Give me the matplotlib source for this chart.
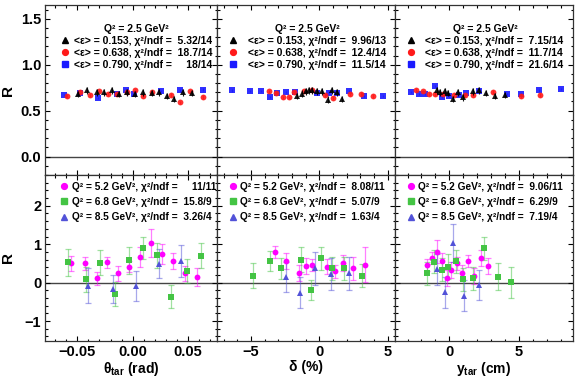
import numpy as np
import matplotlib
matplotlib.use("Agg")
import matplotlib.pyplot as plt
from matplotlib.lines import Line2D
from matplotlib.ticker import MultipleLocator, FormatStrFormatter

plt.rcParams['font.family'] = ['Liberation Sans', 'DejaVu Sans']
plt.rcParams['font.weight'] = 'bold'
plt.rcParams['mathtext.fontset'] = 'custom'
plt.rcParams['mathtext.rm'] = 'Liberation Sans:bold'
plt.rcParams['mathtext.bf'] = 'Liberation Sans:bold'
plt.rcParams['mathtext.it'] = 'Liberation Sans:bold'

# ---------------- data: top row (Q^2 = 2.5 GeV^2, three epsilon settings)
eps_labels = ["<ε> = 0.153", "<ε> = 0.638", "<ε> = 0.790"]
chi_top = [["5.32/14", "18.7/14", "   18/14"],
           ["9.96/13", "12.4/14", "11.5/14"],
           ["7.15/14", "11.7/14", "21.6/14"]]

# theta_tar panel
th_e1_x = [-0.0496, -0.041, -0.0325, -0.026, -0.019, -0.012, -0.0054, 0.0021, 0.0096, 0.0177, 0.0237, 0.0307, 0.0373, 0.0454, 0.0538]
th_e1_y = [0.68, 0.72, 0.70, 0.70, 0.72, 0.68, 0.70, 0.68, 0.70, 0.69, 0.70, 0.66, 0.63, 0.70, 0.69]
th_e2_x = [-0.0596, -0.0476, -0.0385, -0.030, -0.022, -0.014, -0.0054, 0.0018, 0.0096, 0.0177, 0.0343, 0.0427, 0.0523, 0.0632]
th_e2_y = [0.66, 0.70, 0.67, 0.71, 0.68, 0.68, 0.70, 0.72, 0.66, 0.70, 0.67, 0.59, 0.71, 0.65]
th_e3_x = [-0.0617, -0.0476, -0.0316, -0.014, -0.0063, 0.0015, 0.0253, 0.0427, 0.0637]
th_e3_y = [0.668, 0.69, 0.64, 0.68, 0.72, 0.68, 0.71, 0.72, 0.73]

# delta panel
dp_e1_x = [-1.61, -1.29, -1.0, -0.75, -0.5, -0.2, 0.22, 0.61, 0.91, 1.27, 1.64]
dp_e1_y = [0.66, 0.685, 0.71, 0.72, 0.72, 0.71, 0.71, 0.62, 0.72, 0.70, 0.63]
dp_e2_x = [-3.68, -3.17, -2.68, -2.24, -1.85, -1.1, -0.5, 0.42, 0.98, 2.25, 3.03, 3.93]
dp_e2_y = [0.71, 0.69, 0.645, 0.645, 0.70, 0.71, 0.72, 0.67, 0.64, 0.68, 0.68, 0.66]
dp_e3_x = [-6.41, -5.07, -4.29, -3.61, -3.07, -2.44, -1.75, -0.19, 0.7, 1.3, 2.2, 3.27, 4.69]
dp_e3_y = [0.72, 0.71, 0.71, 0.645, 0.69, 0.70, 0.70, 0.69, 0.69, 0.69, 0.71, 0.66, 0.66]

# y_tar panel
yt_e1_x = [-0.9, -0.67, -0.31, -0.07, 0.24, 0.65, 0.96, 1.68, 2.13, 2.63, 3.28, 4.0]
yt_e1_y = [0.72, 0.70, 0.71, 0.69, 0.63, 0.70, 0.645, 0.71, 0.72, 0.69, 0.66, 0.67]
yt_e2_x = [-2.39, -1.91, -1.46, -1.03, -0.45, 0.34, 1.13, 1.72, 3.16, 5.19, 6.5]
yt_e2_y = [0.73, 0.71, 0.68, 0.68, 0.68, 0.67, 0.67, 0.67, 0.70, 0.66, 0.67]
yt_e3_x = [-2.75, -2.15, -1.74, -1.03, -0.55, 0.0, 0.7, 1.2, 2.15, 4.12, 5.19, 6.44, 8.01]
yt_e3_y = [0.70, 0.68, 0.68, 0.77, 0.65, 0.66, 0.67, 0.69, 0.71, 0.68, 0.685, 0.72, 0.735]

err_e1, err_e2, err_e3 = 0.035, 0.02, 0.012

# ---------------- data: bottom row (three Q^2 settings)
q2_labels = ["Q² = 5.2 GeV²", "Q² = 6.8 GeV²", "Q² = 8.5 GeV²"]
chi_bot = [["   11/11", "15.8/9", "3.26/4"],
           ["8.08/11", "5.07/9", "1.63/4"],
           ["9.06/11", "6.29/9", "7.19/4"]]

th_q1_x = [-0.0557, -0.0431, -0.0325, -0.0229, -0.013, -0.0033, 0.0066, 0.0165, 0.0268, 0.0367, 0.0472, 0.058]
th_q1_y = [0.50, 0.50, 0.11, 0.53, 0.24, 0.42, 0.66, 1.04, 0.75, 0.56, 0.24, 0.14]
th_q1_e = [0.19, 0.18, 0.16, 0.15, 0.20, 0.15, 0.26, 0.36, 0.26, 0.21, 0.20, 0.24]
th_q2_x = [-0.0581, -0.0422, -0.0295, -0.016, -0.0033, 0.0096, 0.0222, 0.035, 0.0487, 0.0617]
th_q2_y = [0.53, 0.09, 0.52, -0.30, 0.58, 0.90, 0.71, -0.37, 0.30, 0.70]
th_q2_e = [0.35, 0.33, 0.33, 0.32, 0.35, 0.28, 0.33, 0.30, 0.32, 0.33]
th_q3_x = [-0.040, -0.0175, 0.003, 0.024, 0.0436]
th_q3_y = [-0.08, -0.16, -0.09, 0.49, 0.56]
th_q3_e = [0.45, 0.36, 0.40, 0.38, 0.42]

dp_q1_x = [-3.24, -2.46, -1.49, -1.0, -0.51, 0.54, 1.15, 1.71, 2.49, 3.35]
dp_q1_y = [0.80, 0.56, 0.25, 0.43, 0.46, 0.42, 0.29, 0.51, 0.37, 0.47]
dp_q1_e = [0.16, 0.20, 0.20, 0.20, 0.15, 0.20, 0.18, 0.20, 0.30, 0.45]
dp_q2_x = [-4.88, -3.61, -2.8, -1.34, -0.63, 0.1, 0.91, 1.83, 3.1]
dp_q2_y = [0.18, 0.56, 0.37, 0.60, -0.19, 0.63, 0.37, 0.37, 0.18]
dp_q2_e = [0.33, 0.27, 0.27, 0.32, 0.25, 0.31, 0.30, 0.30, 0.30]
dp_q3_x = [-2.46, -1.41, -0.31, 0.86, 2.17]
dp_q3_y = [0.15, -0.26, 0.37, 0.22, 0.24]
dp_q3_e = [0.40, 0.40, 0.42, 0.42, 0.42]

yt_q1_x = [-1.62, -1.22, -0.86, -0.55, -0.19, 0.12, 0.53, 0.89, 1.32, 1.79, 2.25, 2.75]
yt_q1_y = [0.46, 0.64, 0.80, 0.57, 0.12, 0.33, 0.50, 0.26, 0.57, 0.17, 0.64, 0.43]
yt_q1_e = [0.15, 0.15, 0.30, 0.20, 0.20, 0.20, 0.18, 0.20, 0.15, 0.20, 0.20, 0.20]
yt_q2_x = [-1.62, -1.1, -0.55, -0.07, 0.48, 0.96, 1.68, 2.51, 3.52, 4.47]
yt_q2_y = [0.25, 0.54, 0.33, 0.42, 0.56, 0.09, 0.11, 0.90, 0.15, 0.01]
yt_q2_e = [0.30, 0.30, 0.30, 0.32, 0.30, 0.30, 0.30, 0.30, 0.35, 0.40]
yt_q3_x = [-0.86, -0.29, 0.29, 1.05, 2.15]
yt_q3_y = [0.35, -0.25, 1.03, -0.34, -0.06]
yt_q3_e = [0.40, 0.40, 0.50, 0.40, 0.40]

# ---------------- layout (ROOT-like canvas, pads glued together)
W, H = 581, 378
fig = plt.figure(figsize=(W / 100, H / 100), dpi=100)

col_px = [(45.3, 216.7), (216.7, 395.0), (395.0, 572.7)]
row_px = [(5.0, 175.0), (175.0, 340.7)]
xlims = [(-0.079, 0.076), (-7.51, 5.54), (-3.9, 8.87)]
xmaj = [0.05, 5, 5]
xmin = [0.01, 1, 1]
xlabels = [r"θ$_{\mathregular{tar}}$ (rad)", "δ (%)", r"y$_{\mathregular{tar}}$ (cm)"]
leg_x = [0.088, 0.068, 0.066]
top_pad = [0.5, 1.0, 1.0]

top_cols = {"e1": "black", "e2": "#ff1a1a", "e3": "#1a1aff"}
bot_cols = {"q1": "#ff00ff", "q2": "#44c444", "q3": "#5252d8"}

top_data = [
    [(th_e1_x, th_e1_y), (th_e2_x, th_e2_y), (th_e3_x, th_e3_y)],
    [(dp_e1_x, dp_e1_y), (dp_e2_x, dp_e2_y), (dp_e3_x, dp_e3_y)],
    [(yt_e1_x, yt_e1_y), (yt_e2_x, yt_e2_y), (yt_e3_x, yt_e3_y)],
]
bot_data = [
    [(th_q1_x, th_q1_y, th_q1_e), (th_q2_x, th_q2_y, th_q2_e), (th_q3_x, th_q3_y, th_q3_e)],
    [(dp_q1_x, dp_q1_y, dp_q1_e), (dp_q2_x, dp_q2_y, dp_q2_e), (dp_q3_x, dp_q3_y, dp_q3_e)],
    [(yt_q1_x, yt_q1_y, yt_q1_e), (yt_q2_x, yt_q2_y, yt_q2_e), (yt_q3_x, yt_q3_y, yt_q3_e)],
]


def make_ax(c, r):
    x0, x1 = col_px[c]
    y0, y1 = row_px[r]
    ax = fig.add_axes([x0 / W, 1 - y1 / H, (x1 - x0) / W, (y1 - y0) / H])
    ax.set_xlim(*xlims[c])
    ax.xaxis.set_major_locator(MultipleLocator(xmaj[c]))
    ax.xaxis.set_minor_locator(MultipleLocator(xmin[c]))
    ax.tick_params(which='both', direction='in', top=True, right=True, labelsize=10.5, pad=3)
    ax.tick_params(which='major', length=3.5, width=0.8)
    ax.tick_params(which='minor', length=1.8, width=0.8)
    for s in ax.spines.values():
        s.set_linewidth(0.9)
        s.set_color('#333333')
    ax.axhline(0, color='#444444', lw=1.0, zorder=1)
    return ax


mk = {"e1": "^", "e2": "o", "e3": "s", "q1": "o", "q2": "s", "q3": "^"}

for c in range(3):
    # top row
    ax = make_ax(c, 0)
    ax.set_ylim(-0.2, 1.65)
    ax.yaxis.set_major_locator(MultipleLocator(0.5))
    ax.yaxis.set_minor_locator(MultipleLocator(0.1))
    ax.set_xticklabels([])
    if c == 0:
        ax.yaxis.set_major_formatter(FormatStrFormatter('%.1f'))
        ax.set_ylabel("R", fontsize=11, fontweight='bold')
        ax.yaxis.set_label_coords(-0.175, 0.5)
    else:
        ax.set_yticklabels([])
    handles = []
    for k, key, err in zip(range(3), ["e1", "e2", "e3"], [err_e1, err_e2, err_e3]):
        xs, ys = top_data[c][k]
        col = top_cols[key]
        ax.errorbar(xs, ys, yerr=err, fmt=mk[key], color=col, ms=4.2, mew=0,
                    ecolor=col, elinewidth=0.8, capsize=1.8, capthick=0.8, alpha=0.9,
                    zorder=3 + (2 - k))
        handles.append(Line2D([], [], ls='', marker=mk[key], color=col, ms=4.2,
                              label=f"{eps_labels[k]}, χ²/ndf =  {chi_top[c][k]}"))
    leg = ax.legend(handles=handles, title="Q² = 2.5 GeV²", frameon=False,
                    loc='upper left', bbox_to_anchor=(leg_x[c], 0.89), fontsize=7.5,
                    title_fontsize=7.5, handlelength=0.8, handletextpad=top_pad[c],
                    labelspacing=0.2, borderaxespad=0, borderpad=0)
    leg.get_title().set_fontweight('bold')

    # bottom row
    ax = make_ax(c, 1)
    ax.set_ylim(-1.51, 2.8)
    ax.yaxis.set_major_locator(MultipleLocator(1))
    ax.yaxis.set_minor_locator(MultipleLocator(0.2))
    ax.set_xlabel(xlabels[c], fontsize=10, fontweight='bold', labelpad=1)
    if c == 0:
        ax.set_ylabel("R", fontsize=11, fontweight='bold')
        ax.yaxis.set_label_coords(-0.175, 0.5)
    else:
        ax.set_yticklabels([])
    handles = []
    for k, key in enumerate(["q1", "q2", "q3"]):
        xs, ys, es = bot_data[c][k]
        col = bot_cols[key]
        ax.errorbar(xs, ys, yerr=es, fmt='none', ecolor=col, elinewidth=0.9,
                    capsize=2.0, capthick=0.9, alpha=0.5, zorder=2)
        ax.plot(xs, ys, ls='', marker=mk[key], color=col, ms=4.2, mew=0, zorder=4)
        handles.append(Line2D([], [], ls='', marker=mk[key], color=col, ms=4.2,
                              label=f"{q2_labels[k]}, χ²/ndf =  {chi_bot[c][k]}"))
    ax.legend(handles=handles, frameon=False, loc='upper left',
              bbox_to_anchor=(leg_x[c], 0.958), fontsize=7.3, handlelength=0.8,
              handletextpad=0.3, labelspacing=0.5, borderaxespad=0, borderpad=0)

fig.savefig("out.png", dpi=100)
